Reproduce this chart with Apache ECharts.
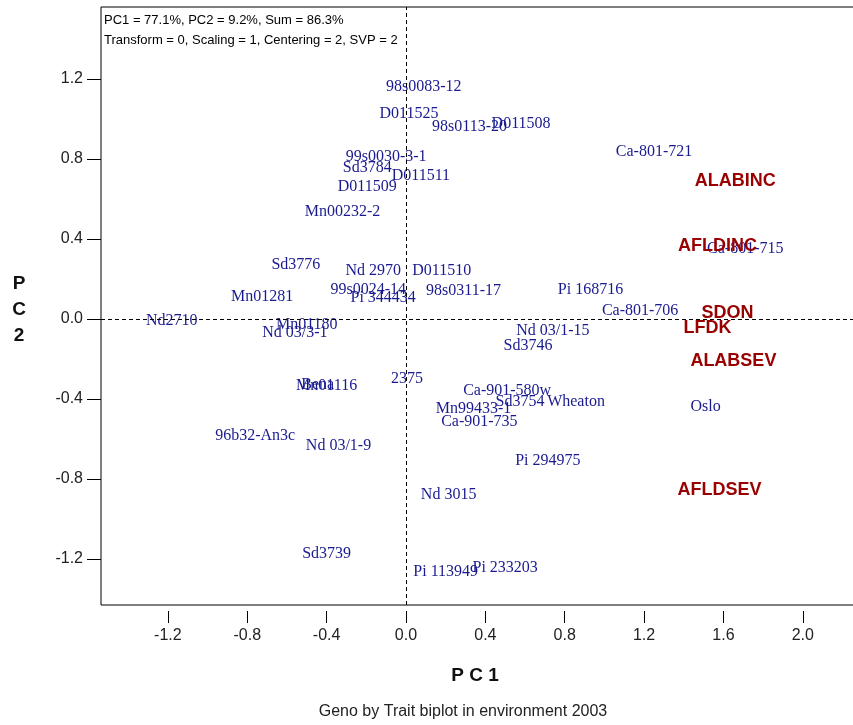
<!DOCTYPE html>
<html>
<head>
<meta charset="utf-8">
<script src="https://cdn.jsdelivr.net/npm/echarts@6/dist/echarts.min.js"></script>
<style>
  html, body { margin: 0; padding: 0; background: #fff; overflow: hidden; }
  /* plot frame runs past the right edge of the window */
  #chart { width: 857px; height: 725px; }
</style>
</head>
<body>
<div id="chart"></div>
<script>
// Genotype scores (PC1, PC2)
const genoNames = [
  '98s0083-12', 'D011525', '98s0113-20', 'D011508', '99s0030-3-1', 'Sd3784',
  'D011511', 'D011509', 'Mn00232-2', 'Ca-801-721', 'Ca-801-715', 'Sd3776',
  'Nd 2970', 'D011510', 'Mn01281', '99s0024-14', '98s0311-17', 'Pi 344434',
  'Nd2710', 'Mn01180', 'Nd 03/3-1', 'Pi 168716', 'Ca-801-706', 'Nd 03/1-15',
  'Sd3746', '2375', 'Bena', 'Mn01116', 'Ca-901-580w', 'Sd3754', 'Wheaton',
  'Mn99433-1', 'Ca-901-735', 'Oslo', '96b32-An3c', 'Nd 03/1-9', 'Pi 294975',
  'Nd 3015', 'Sd3739', 'Pi 113949', 'Pi 233203'
];
const genoPC1 = [
  0.09, 0.015, 0.32, 0.58, -0.10, -0.195,
  0.075, -0.195, -0.32, 1.25, 1.71, -0.555,
  -0.165, 0.18, -0.725, -0.19, 0.29, -0.115,
  -1.18, -0.50, -0.56, 0.93, 1.18, 0.74,
  0.615, 0.005, -0.445, -0.40, 0.51, 0.575, 0.857,
  0.34, 0.37, 1.51, -0.76, -0.34, 0.715,
  0.215, -0.40, 0.20, 0.50
];
const genoPC2 = [
  1.16, 1.025, 0.96, 0.975, 0.81, 0.755,
  0.715, 0.66, 0.535, 0.835, 0.35, 0.27,
  0.24, 0.24, 0.11, 0.145, 0.14, 0.105,
  -0.01, -0.03, -0.07, 0.145, 0.04, -0.06,
  -0.135, -0.30, -0.33, -0.335, -0.36, -0.415, -0.415,
  -0.45, -0.515, -0.44, -0.585, -0.635, -0.71,
  -0.88, -1.175, -1.265, -1.245
];

// Trait vectors (PC1, PC2)
const traitNames = ['ALABINC', 'AFLDINC', 'SDON', 'LFDK', 'ALABSEV', 'AFLDSEV'];
const traitPC1 = [1.66, 1.57, 1.62, 1.52, 1.65, 1.58];
const traitPC2 = [0.69, 0.365, 0.03, -0.045, -0.21, -0.855];

// Tick positions
const pc1Ticks = [-1.2, -0.8, -0.4, 0.0, 0.4, 0.8, 1.2, 1.6, 2.0];
const pc2Ticks = [-1.2, -0.8, -0.4, 0.0, 0.4, 0.8, 1.2];

const infoLines = [
  'PC1 = 77.1%, PC2 = 9.2%, Sum = 86.3%',
  'Transform = 0, Scaling = 1, Centering = 2, SVP = 2'
];
const captionText = 'Geno by Trait biplot in environment 2003';

const genoData = genoNames.map((n, i) => ({ name: n, value: [genoPC1[i], genoPC2[i]] }));
const traitData = traitNames.map((n, i) => ({ name: n, value: [traitPC1[i], traitPC2[i]] }));

const sans = '"Liberation Sans", Arial, sans-serif';

const chart = echarts.init(document.getElementById('chart'), null, { renderer: 'canvas' });
chart.setOption({
  animation: false,
  backgroundColor: '#fff',
  grid: {
    left: 101, top: 7, right: 0, bottom: 120,
    show: true, borderColor: '#000', borderWidth: 1, backgroundColor: 'transparent'
  },
  xAxis: {
    type: 'value',
    min: -1.537, max: 2.273,
    offset: 6,
    splitLine: { show: false },
    axisLine: { show: false, onZero: false },
    axisTick: { show: true, length: 12, customValues: pc1Ticks, lineStyle: { color: '#000' } },
    axisLabel: {
      customValues: pc1Ticks, margin: 17,
      formatter: v => v.toFixed(1),
      color: '#222', fontFamily: sans, fontSize: 16
    }
  },
  yAxis: {
    type: 'value',
    min: -1.43, max: 1.56,
    splitLine: { show: false },
    axisLine: { show: false, onZero: false },
    axisTick: { show: true, length: 14, customValues: pc2Ticks, lineStyle: { color: '#000' } },
    axisLabel: {
      customValues: pc2Ticks, margin: 18,
      formatter: v => v.toFixed(1),
      color: '#222', fontFamily: sans, fontSize: 16
    }
  },
  series: [
    {
      name: 'Genotypes',
      type: 'scatter',
      data: genoData,
      symbolSize: 1,
      itemStyle: { color: 'rgba(0,0,0,0)', opacity: 1 },
      label: {
        show: true, position: 'inside', formatter: p => p.name,
        color: '#1a1a90', fontFamily: '"Liberation Serif", "Times New Roman", serif', fontSize: 16
      },
      markLine: {
        silent: true, symbol: 'none',
        label: { show: false },
        lineStyle: { color: '#000', type: [4, 3], width: 1 },
        data: [{ xAxis: 0 }, { yAxis: 0 }]
      },
      z: 3
    },
    {
      name: 'Traits',
      type: 'scatter',
      data: traitData,
      symbolSize: 1,
      itemStyle: { color: 'rgba(0,0,0,0)', opacity: 1 },
      label: {
        show: true, position: 'inside', formatter: p => p.name,
        color: '#990000', fontFamily: sans,
        fontWeight: 'bold', fontSize: 18
      },
      z: 4
    }
  ],
  graphic: [
    {
      type: 'text', left: 104, top: 10,
      style: { text: infoLines.join('\n'), fill: '#000', font: '13px ' + sans, lineHeight: 20 }
    },
    {
      type: 'text', x: 475, y: 676,
      style: { text: 'P C 1', fill: '#111', font: 'bold 19px ' + sans, align: 'center', verticalAlign: 'middle' }
    },
    {
      type: 'text', x: 19, y: 310,
      style: { text: 'P\nC\n2', fill: '#111', font: 'bold 19px ' + sans, align: 'center', verticalAlign: 'middle', lineHeight: 26 }
    },
    {
      type: 'text', x: 463, y: 712,
      style: { text: captionText, fill: '#222', font: '16px ' + sans, align: 'center', verticalAlign: 'middle' }
    }
  ]
});
</script>
</body>
</html>
